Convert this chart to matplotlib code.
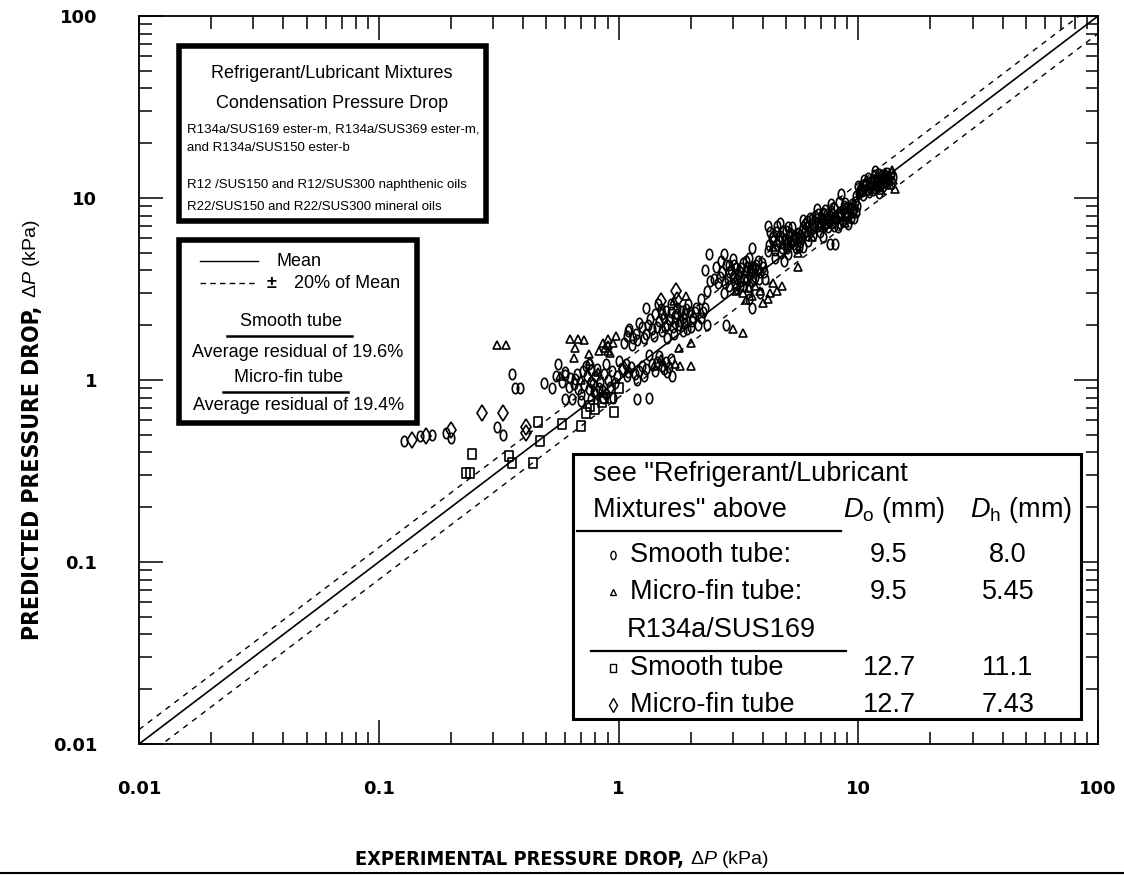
import matplotlib
matplotlib.use('Agg')
import matplotlib.pyplot as plt
from matplotlib.path import Path
from matplotlib.transforms import Affine2D
from matplotlib.patches import Rectangle
from matplotlib.lines import Line2D

# ---------------- data (experimental, predicted) in kPa ----------------
smooth_pts = [  # circles: smooth tube, Do 9.5 mm
    (0.128, 0.46), (0.148, 0.49), (0.167, 0.50), (0.19, 0.51), (0.20, 0.48), (0.31, 0.55),
    (0.33, 0.50), (0.36, 1.08), (0.37, 0.90), (0.39, 0.90),
    (0.49, 0.96), (0.53, 0.90), (0.55, 1.05), (0.60, 1.07), (0.63, 1.03), (0.66, 1.01),
    (0.68, 0.89), (0.70, 0.84), (0.75, 0.89), (0.77, 0.97), (0.70, 0.77), (0.77, 0.79),
    (0.83, 0.90), (0.89, 0.84), (0.75, 1.23), (0.77, 1.13), (0.89, 1.23), (0.56, 1.23),
    (0.60, 1.10), (0.65, 0.95), (0.73, 1.20), (0.80, 1.05), (0.90, 1.00), (0.78, 0.95),
    (0.85, 0.88), (0.95, 0.80), (0.60, 0.79), (0.64, 0.79),
    (0.58, 0.98), (0.62, 0.92), (0.67, 1.08), (0.72, 0.94), (0.74, 1.05), (0.79, 0.86),
    (0.81, 1.15), (0.84, 0.98), (0.87, 1.08), (0.92, 0.92), (0.94, 1.12), (0.97, 0.96),
    (0.71, 1.12), (0.86, 0.80), (0.99, 1.05),
    (1.05, 1.60), (1.10, 1.85), (1.11, 1.90), (1.15, 1.70), (1.20, 1.65), (1.25, 1.95), (1.30, 1.80),
    (1.08, 1.75), (1.18, 1.80), (1.22, 2.05), (1.28, 1.70), (1.14, 1.55),
    (1.00, 1.27), (1.09, 1.05), (1.10, 1.10), (1.20, 1.00), (1.25, 1.20), (1.30, 1.15),
    (1.34, 1.38), (1.45, 1.25), (1.55, 1.15), (1.60, 1.10), (1.65, 1.30), (1.67, 1.05),
    (1.19, 0.79), (1.34, 0.80),
    (1.03, 1.15), (1.07, 1.22), (1.13, 1.18), (1.17, 1.08), (1.22, 1.12), (1.28, 1.05),
    (1.38, 1.22), (1.42, 1.12), (1.48, 1.35), (1.52, 1.20), (1.58, 1.25), (1.62, 1.18),
    (1.30, 2.49), (1.50, 2.45), (1.35, 2.15), (1.45, 1.95), (1.55, 2.20), (1.60, 2.00),
    (1.65, 2.35), (1.70, 1.80), (1.75, 2.50), (1.80, 2.10), (1.85, 1.85), (1.90, 2.30),
    (1.95, 2.60), (2.00, 1.95), (2.05, 2.20), (1.60, 1.70), (2.20, 2.80), (2.30, 2.50),
    (2.20, 2.20), (2.35, 2.00), (2.80, 2.00), (2.10, 2.50),
    (1.38, 1.90), (1.42, 2.30), (1.48, 2.10), (1.52, 1.85), (1.58, 2.40), (1.62, 2.15),
    (1.68, 1.95), (1.72, 2.25), (1.78, 2.00), (1.82, 2.40), (1.88, 2.05), (1.93, 1.90),
    (1.98, 2.35), (2.02, 2.10), (1.40, 1.75),
    (1.33, 2.00), (1.46, 2.60), (1.56, 1.95), (1.66, 2.60), (1.76, 2.30), (1.86, 2.20),
    (2.08, 2.35), (2.15, 2.00), (2.25, 2.35), (1.52, 2.30), (1.72, 2.05), (1.92, 2.45),
    (2.30, 4.00), (2.35, 3.10), (2.38, 4.90), (2.40, 3.50), (2.60, 3.40), (2.70, 3.90),
    (2.75, 3.00), (2.75, 4.90), (2.80, 4.30), (2.90, 3.30), (3.00, 3.70), (3.00, 4.60),
    (3.10, 4.10), (3.20, 3.50), (3.20, 3.30), (3.30, 4.40), (3.40, 3.90), (3.50, 3.30),
    (3.50, 4.70), (3.50, 2.80), (3.60, 4.20), (3.60, 2.50), (3.60, 5.30), (3.70, 3.70),
    (3.80, 4.50), (3.90, 3.90), (3.90, 3.00), (4.00, 4.20), (4.10, 3.60),
    (2.65, 3.70), (2.85, 3.60), (2.95, 4.00), (3.05, 3.40), (3.15, 3.80), (3.25, 4.10),
    (3.35, 3.60), (3.45, 4.20), (3.55, 3.80), (3.65, 4.00), (3.75, 4.30), (3.85, 3.60),
    (2.90, 4.30), (3.10, 3.20), (3.40, 4.50),
    (2.50, 3.60), (2.55, 4.20), (2.68, 4.50), (2.78, 3.40), (2.88, 3.90), (3.02, 4.30),
    (3.12, 3.60), (3.22, 3.90), (3.32, 3.30), (3.42, 3.60), (3.52, 4.00), (3.62, 3.50),
    (3.72, 4.10), (3.82, 4.00), (3.95, 4.40), (4.05, 3.90),
    (4.20, 5.10), (4.20, 7.00), (4.30, 6.50), (4.40, 5.80), (4.50, 4.70), (4.60, 7.00),
    (4.70, 6.20), (4.70, 7.30), (4.80, 5.30), (4.90, 4.50), (5.00, 6.60), (5.10, 4.90),
    (5.20, 5.80), (5.30, 6.90), (5.40, 6.20), (5.50, 5.30), (5.70, 5.70), (5.90, 5.40),
    (4.40, 6.20), (4.60, 5.50), (4.80, 6.00), (5.00, 5.60), (5.20, 6.40), (5.40, 5.60),
    (5.60, 6.40), (4.50, 5.20), (5.10, 6.90), (5.80, 6.10),
    (4.25, 5.50), (4.35, 6.00), (4.55, 6.50), (4.65, 5.80), (4.75, 5.00), (4.85, 6.60),
    (4.95, 5.90), (5.05, 5.30), (5.15, 6.20), (5.35, 5.90), (5.50, 6.00), (5.65, 5.40),
    (5.6, 6.0), (5.8, 6.6), (5.9, 7.6), (6.0, 7.2), (6.1, 6.3), (6.2, 5.8), (6.3, 7.8),
    (6.5, 6.8), (6.6, 7.4), (6.7, 8.7), (6.8, 8.2), (6.9, 6.5), (7.0, 7.0), (7.1, 6.1),
    (7.2, 7.6), (7.3, 8.6), (7.5, 6.9), (7.6, 8.0), (7.7, 9.3), (7.8, 7.3), (7.9, 8.8),
    (8.1, 7.7), (8.2, 6.9), (8.3, 9.5), (8.4, 8.4), (8.6, 7.5), (8.7, 9.0), (8.9, 8.0),
    (9.1, 7.2), (9.2, 8.6), (9.4, 9.3), (9.6, 7.8), (9.8, 8.4), (9.9, 9.0),
    (6.0, 6.6), (6.4, 7.2), (6.8, 7.0), (7.2, 7.0), (7.4, 8.2), (7.8, 8.2), (8.0, 7.4),
    (8.3, 8.0), (8.6, 8.6), (9.0, 8.4), (9.3, 7.8), (9.6, 8.8), (6.4, 7.7), (7.0, 7.7),
    (8.8, 9.4), (9.7, 9.5), (6.2, 6.9), (7.6, 7.6),
    (5.7, 6.3), (5.9, 6.9), (6.1, 7.5), (6.3, 6.5), (6.6, 8.0), (6.9, 7.3), (7.1, 8.3),
    (7.3, 7.2), (7.5, 7.9), (7.7, 8.5), (7.9, 7.8), (8.2, 8.2), (8.5, 8.0), (8.8, 8.8),
    (9.1, 8.9), (9.5, 8.5), (6.5, 6.3), (7.9, 7.0), (8.4, 7.3),
    (7.6, 5.6), (8.0, 5.6), (8.5, 10.5),
    (9.8, 10.2), (10.0, 11.6), (10.2, 11.0), (10.5, 10.4), (10.6, 12.5), (10.8, 11.8),
    (11.0, 12.9), (11.1, 10.8), (11.4, 12.3), (11.7, 11.3), (11.8, 14.0), (12.0, 12.8),
    (12.2, 10.7), (12.3, 11.7), (12.6, 13.3), (12.9, 12.2), (13.2, 13.7), (13.5, 12.6),
    (13.9, 13.0), (10.3, 11.3), (10.9, 11.2), (11.3, 11.7), (11.6, 12.6), (12.1, 12.4),
    (12.5, 12.0), (12.8, 12.9), (13.1, 12.4), (10.5, 11.8), (11.9, 11.9), (13.7, 13.6),
    (10.1, 10.6), (10.4, 10.9), (10.7, 12.0), (11.2, 12.2), (11.5, 11.0), (12.0, 11.5),
    (12.4, 12.8), (12.7, 11.6), (13.0, 13.2), (13.3, 12.9), (11.1, 11.5), (12.2, 13.5)]

microfin_pts = [  # triangles: micro-fin tube, Do 9.5 mm
    (0.31, 1.55), (0.34, 1.55), (0.63, 1.67), (0.68, 1.67), (0.72, 1.65), (0.65, 1.32),
    (0.66, 1.50), (0.75, 1.39), (0.76, 1.27), (0.83, 1.45), (0.86, 1.60), (0.88, 1.50),
    (0.90, 1.67), (0.90, 1.55), (0.90, 1.45), (0.92, 1.40), (0.95, 1.60), (0.98, 1.75),
    (0.57, 1.05), (0.70, 1.00), (0.82, 1.10), (1.40, 1.20), (1.50, 1.30), (1.72, 1.23),
    (1.79, 1.50), (1.80, 1.20), (2.00, 1.19), (2.00, 1.60), (1.70, 2.70), (1.91, 2.90),
    (3.00, 1.90), (3.30, 1.82), (3.10, 3.10), (3.30, 3.00), (3.40, 2.75), (3.60, 2.90),
    (3.90, 3.10), (4.00, 2.65), (4.20, 2.80), (4.40, 3.40), (4.60, 3.10), (4.80, 3.30),
    (3.70, 3.30), (4.30, 3.00), (3.50, 3.20),
    (4.40, 5.40), (4.90, 5.60), (5.60, 5.00), (5.60, 4.20), (6.4, 6.1), (7.0, 8.0),
    (7.4, 7.2), (8.0, 8.1), (8.8, 7.3), (9.3, 8.2),
    (10.3, 10.8), (11.3, 11.6), (11.6, 13.6), (12.1, 12.1), (12.5, 11.1), (12.8, 12.9),
    (13.4, 13.2), (13.6, 11.8), (13.8, 14.3), (14.0, 12.5), (14.2, 11.2), (12.9, 13.9),
    (13.2, 12.0), (11.0, 10.9)]

r134a_smooth_pts = [  # squares: R134a/SUS169 smooth tube, Do 12.7 mm
    (0.232, 0.31), (0.24, 0.31), (0.245, 0.39), (0.35, 0.38), (0.36, 0.35), (0.44, 0.35),
    (0.46, 0.59), (0.47, 0.46), (0.58, 0.57), (0.70, 0.56), (0.73, 0.66), (0.76, 0.72),
    (0.80, 0.69), (0.85, 0.76), (0.87, 0.80), (0.93, 0.80), (0.96, 0.67), (1.00, 0.90)]

r134a_microfin_pts = [  # diamonds: R134a/SUS169 micro-fin tube, Do 12.7 mm
    (0.137, 0.47), (0.158, 0.49), (0.20, 0.53), (0.27, 0.66), (0.33, 0.66), (0.41, 0.55),
    (0.41, 0.51), (0.82, 0.85), (1.05, 1.15), (1.50, 2.70), (1.73, 3.10), (1.75, 2.75)]

line_x = [0.01, 100]
band = 0.20  # +/- 20 % of mean

tick_vals = [0.01, 0.1, 1, 10, 100]
tick_labels = ['0.01', '0.1', '1', '10', '100']

table_rows = [('Smooth tube:', '9.5', '8.0'),
              ('Micro-fin tube:', '9.5', '5.45'),
              ('Smooth tube', '12.7', '11.1'),
              ('Micro-fin tube', '12.7', '7.43')]

# ---------------- figure ----------------
W, H = 1124, 875
plt.rcParams['font.family'] = ['Liberation Sans', 'DejaVu Sans']
plt.rcParams['mathtext.fontset'] = 'custom'
plt.rcParams['mathtext.rm'] = 'Liberation Sans'
plt.rcParams['mathtext.it'] = 'Liberation Sans:italic'
plt.rcParams['mathtext.bf'] = 'Liberation Sans:bold'

fig = plt.figure(figsize=(W / 100, H / 100), dpi=100)
ax = fig.add_axes([139 / W, 1 - 744 / H, (1098 - 139) / W, (744 - 16) / H])
ax.set_xscale('log')
ax.set_yscale('log')
ax.set_xlim(0.01, 100)
ax.set_ylim(0.01, 100)

ell = Path.unit_circle().transformed(Affine2D().scale(0.62, 1.0))
rect = Path.unit_rectangle().transformed(Affine2D().translate(-0.5, -0.5).scale(0.75, 1.0))
mk = dict(ls='none', mfc='none', mec='black', mew=1.2, zorder=3)


def unzip(pts):
    return [p[0] for p in pts], [p[1] for p in pts]


ax.plot(*unzip(smooth_pts), marker=ell, ms=7.5, **mk)
ax.plot(*unzip(microfin_pts), marker='^', ms=6, **mk)
ax.plot(*unzip(r134a_smooth_pts), marker=rect, ms=7.5, **mk)
ax.plot(*unzip(r134a_microfin_pts), marker='d', ms=8.5, **mk)

ax.plot(line_x, line_x, color='black', lw=1.2, zorder=2)
ax.plot(line_x, [v * (1 + band) for v in line_x], color='black', lw=1.0, ls=(0, (4, 4)), zorder=2)
ax.plot(line_x, [v * (1 - band) for v in line_x], color='black', lw=1.0, ls=(0, (4, 4)), zorder=2)

ax.set_xticks(tick_vals)
ax.set_xticklabels(tick_labels)
ax.set_yticks(tick_vals)
ax.set_yticklabels(tick_labels)
ax.tick_params(which='both', direction='in', top=True, right=True, width=1.1)
ax.tick_params(which='major', length=17)
ax.tick_params(which='minor', length=9)
ax.tick_params(axis='x', which='major', pad=26)
ax.tick_params(axis='y', which='major', pad=30)
for lab in ax.get_xticklabels() + ax.get_yticklabels():
    lab.set_fontfamily('DejaVu Sans')
    lab.set_fontweight('bold')
    lab.set_fontsize(13)
for s in ax.spines.values():
    s.set_linewidth(1.3)


def fx(px):
    return px / W


def fy(py):
    return 1 - py / H


def box(x0, y0, x1, y1, lw):
    fig.patches.append(Rectangle((fx(x0), fy(y1)), fx(x1) - fx(x0), fy(y0) - fy(y1),
                                 transform=fig.transFigure, facecolor='white',
                                 edgecolor='black', lw=lw, zorder=5))


def txt(x, y, s, size, ha='left', va='center', **kw):
    return fig.text(fx(x), fy(y), s, fontsize=size, ha=ha, va=va, zorder=6, **kw)


def hline(x0, x1, y, lw=1.5, ls='-'):
    fig.lines.append(Line2D([fx(x0), fx(x1)], [fy(y), fy(y)], transform=fig.transFigure,
                            color='black', lw=lw, ls=ls, zorder=6))


# box 1
box(179, 46, 486, 221, 4)
txt(332, 73, 'Refrigerant/Lubricant Mixtures', 13, ha='center')
txt(332, 103, 'Condensation Pressure Drop', 13, ha='center')
txt(187, 129, 'R134a/SUS169 ester-m, R134a/SUS369 ester-m,', 9.5)
txt(187, 148, 'and R134a/SUS150 ester-b', 9.5)
txt(187, 185, 'R12 /SUS150 and R12/SUS300 naphthenic oils', 9.5)
txt(187, 207, 'R22/SUS150 and R22/SUS300 mineral oils', 9.5)

# box 2
box(179, 240, 417, 423, 4)
hline(200, 258, 261, 1.0)
hline(200, 258, 283, 1.0, ls=(0, (4, 3)))
txt(277, 261, 'Mean', 13)
txt(267, 283, '±', 13, fontweight='bold')
txt(294, 283, '20% of Mean', 13)
txt(291, 321, 'Smooth tube', 13, ha='center')
hline(227, 352, 336, 1.8)
txt(298, 352, 'Average residual of 19.6%', 13, ha='center')
txt(289, 378, 'Micro-fin tube', 13, ha='center')
hline(223, 348, 392, 1.8)
txt(299, 405, 'Average residual of 19.4%', 13, ha='center')

# box 3
FS3 = 19.5
box(573, 454, 1081, 719, 2.2)
txt(593, 474, 'see "Refrigerant/Lubricant', FS3)
txt(593, 510, 'Mixtures" above', FS3)
txt(843, 510, r'$\mathit{D}_{\mathrm{o}}$ (mm)', FS3)
txt(970, 510, r'$\mathit{D}_{\mathrm{h}}$ (mm)', FS3)
hline(577, 841, 531, 1.6)
row_y = [555, 592, 668, 705]
row_markers = [(ell, 6), ('^', 5), (rect, 6), ('d', 7)]
for (lab, do, dh), yy, (m, s) in zip(table_rows, row_y, row_markers):
    fig.lines.append(Line2D([fx(613)], [fy(yy)], transform=fig.transFigure, marker=m, ms=s,
                            mfc='none', mec='black', mew=1.0, ls='none', zorder=6))
    txt(630, yy, lab, FS3)
    txt(889, yy, do, FS3, ha='center')
    txt(1008, yy, dh, FS3, ha='center')
txt(721, 630, 'R134a/SUS169', FS3, ha='center')
hline(591, 846, 651, 1.6)

# axis titles (bold part + normal part placed right after it)
lab_kw = dict(fontweight='bold', family='DejaVu Sans', fontstretch='condensed')
ty = fig.text(fx(32), fy(640), 'PREDICTED PRESSURE DROP,', rotation=90, rotation_mode='anchor',
              ha='left', va='center', fontsize=16.5, **lab_kw)
tx = fig.text(fx(355), fy(860), 'EXPERIMENTAL PRESSURE DROP,', ha='left', va='center',
              fontsize=14.3, **lab_kw)
fig.canvas.draw()
r = fig.canvas.get_renderer()
by = ty.get_window_extent(r)
bx = tx.get_window_extent(r)
fig.text(fx(32), (by.y1 + 8) / H, r'$\Delta \mathit{P}$ (kPa)', rotation=90, rotation_mode='anchor',
         ha='left', va='center', fontsize=14)
fig.text((bx.x1 + 6) / W, fy(860), r'$\Delta \mathit{P}$ (kPa)', ha='left', va='center', fontsize=14)

fig.lines.append(Line2D([0, 1], [fy(873), fy(873)], transform=fig.transFigure, color='black', lw=1.5))

fig.savefig('out.png', dpi=100)
